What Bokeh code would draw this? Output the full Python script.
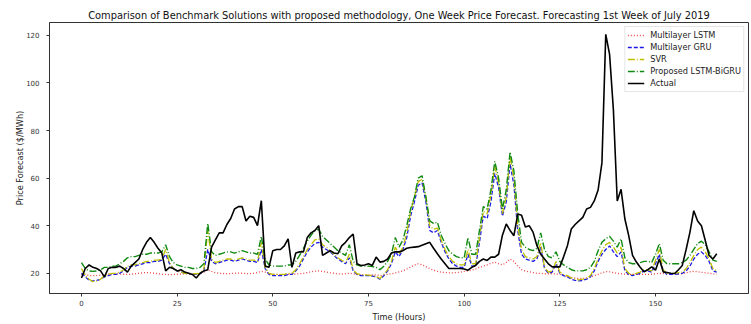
from bokeh.plotting import figure
from bokeh.models import Range1d, Legend, LegendItem
from bokeh.embed import file_html
from bokeh.resources import INLINE

title_text = "Comparison of Benchmark Solutions with proposed methodology, One Week Price Forecast. Forecasting 1st Week of July 2019"
x_label = "Time (Hours)"
y_label = "Price Forecast ($/MWh)"
x_ticks = [0, 25, 50, 75, 100, 125, 150]
y_ticks = [20, 40, 60, 80, 100, 120]

series_names = ["Multilayer LSTM", "Multilayer GRU", "SVR", "Proposed LSTM-BiGRU", "Actual"]

lstm = [19.5, 19.5, 19, 19, 19, 19.2, 19.5, 19.6, 19.8, 19.8,
        19.7, 19.6, 19.5, 19.6, 19.8, 20, 20.2, 20.3, 20.2, 20,
        19.8, 19.6, 19.5, 19.4, 19.5, 19.6, 19.7, 19.8, 19.7, 19.6,
        19.5, 19.8, 20.5, 21.5, 20.8, 20.2, 20, 19.9, 19.8, 19.9,
        20, 20.1, 20, 19.9, 19.8, 20, 20.3, 20.8, 20.5, 19.8,
        19.6, 19.5, 19.4, 19.5, 19.6, 19.6, 19.7, 19.8, 20, 20.3,
        20.6, 20.9, 21, 20.8, 20.5, 20.2, 20, 19.8, 19.7, 19.8,
        20, 19.8, 19.5, 19.3, 19.2, 19.2, 19.3, 19.3, 19, 19.2,
        19.5, 19.8, 20.2, 20.6, 21, 21.8, 22.6, 23.4, 24, 23.6,
        22.8, 22, 21.3, 20.8, 20.5, 20.3, 20.2, 20.2, 20.3, 20.5,
        20.8, 21, 21.3, 21.8, 22.5, 23, 23.5, 24.2, 24.7, 24,
        23.5, 24.5, 26, 25, 23, 21.5, 21, 20.6, 20.3, 20,
        19.9, 19.8, 19.8, 19.8, 19.7, 19.5, 19, 18.5, 18.2, 18,
        17.8, 17.8, 18, 18.5, 19, 19.5, 20.2, 20.7, 20.6, 20.3,
        20, 19.8, 19.6, 19.5, 19.5, 19.6, 19.6, 19.5, 19.5, 19.6,
        19.8, 19.9, 19.9, 19.8, 19.7, 19.6, 19.6, 19.8, 20.2, 20.6,
        20.8, 20.6, 20.4, 20.2, 20, 19.8, 19.6]

gru = [20, 18.5, 17, 16.8, 17, 17.5, 18.5, 19, 19.5, 19.5,
       20, 21, 22.5, 23, 23, 23.5, 24, 24.5, 24.5, 25,
       25, 25.5, 28, 24, 22, 21, 20.5, 20, 20, 19.5,
       19.5, 19.8, 21, 30, 25, 24, 24.5, 25, 25.5, 25.5,
       25, 25.5, 26, 25.5, 25, 25, 24.5, 30, 22, 19.5,
       19, 19, 19, 19, 19.5, 19.5, 21, 23, 26, 29,
       31, 32.5, 33, 31, 30, 29, 27.5, 26, 25, 24,
       26.5, 21, 19.5, 19, 19, 19, 18.8, 18.5, 17.5, 19,
       21, 24, 29, 27, 30, 35, 44, 50, 57, 58,
       50, 38, 37, 38, 33, 29, 26, 24, 23, 22.5,
       22.5, 28, 23, 23, 33, 44, 43, 50, 62, 56,
       44, 50, 66, 57, 38, 28, 26, 25.5, 25, 26,
       31, 22, 20, 20.5, 24, 20, 19, 18.5, 17.5, 17,
       16.8, 17, 17.5, 18.5, 21, 25, 28, 30, 31.5, 29,
       27, 29, 21, 19.5, 19, 19.5, 20, 21, 21, 20.5,
       24, 28, 21, 19.5, 19.5, 19.5, 19.8, 20, 21, 23,
       26, 28, 29, 27.5, 25, 21, 20.5]

svr = [22, 19, 17.5, 16.5, 16.8, 17.5, 19, 19.5, 20, 20,
       20.5, 21.5, 23, 23.5, 23.5, 24, 24.5, 25, 25, 25.5,
       25.5, 26, 30, 24.5, 22, 21, 20.5, 20, 20, 19.8,
       19.8, 20, 22, 38, 26, 24.5, 25, 25.5, 26, 26,
       25.5, 26, 26.5, 26, 25.5, 25.5, 25, 33, 22.5, 20,
       19.5, 19.5, 19.5, 19.5, 20, 20, 21.5, 24, 27, 30,
       32, 34, 34.5, 32, 31, 29.5, 28, 26.5, 25.5, 24.5,
       28, 21.5, 19.8, 19.5, 19.3, 19.2, 19, 18.7, 17.8, 19.5,
       21.5, 25, 31, 28, 31, 37, 46, 52, 58.5, 59.5,
       52, 40, 38.5, 39, 34, 30, 27, 25, 24, 23.5,
       23.5, 30, 24, 24, 35, 46, 45, 53, 65, 58,
       45, 52, 69, 60, 40, 30, 27, 26.5, 26, 27,
       33, 22.5, 20.5, 21, 25, 20.5, 19.5, 19, 18, 17.5,
       17.2, 17.5, 18, 19, 22, 26, 29.5, 32, 33, 31,
       28.5, 31, 22, 20, 19.5, 20, 20.5, 21.5, 21.5, 21,
       25.5, 30, 21.5, 20, 20, 20, 20.3, 20.5, 22, 24.5,
       27.5, 30, 31, 29, 26, 22, 21]

proposed = [24.5, 22, 21, 20.8, 21, 21.5, 22.5, 22.5, 23, 23,
            24, 25, 26.5, 27, 27, 27.5, 28, 28, 28.5, 28.5,
            28.5, 29, 32, 27, 24.5, 23.5, 23, 22.5, 22.5, 22,
            22, 22.5, 24, 41, 29, 27.5, 28, 28.5, 29, 29,
            28.5, 29, 29.5, 29, 28.5, 28.5, 28, 35.5, 26, 23.5,
            23, 23, 23, 23, 23.5, 23.5, 25, 27.5, 30.5, 33.5,
            36, 38, 38.5, 35.5, 34, 32.5, 31, 29.5, 28.5, 27.5,
            32, 25, 23.5, 23, 23, 23, 22.8, 22.5, 21.5, 23,
            25, 28, 35, 31, 34, 40, 47, 52, 60, 61,
            52, 42, 41, 41.5, 36, 32.5, 29.5, 28, 27, 26.5,
            26.5, 35, 28, 28, 38, 48, 47, 55, 67, 60,
            47, 55, 71, 63, 45, 33, 31, 30, 29.5, 30.5,
            37, 30, 27, 26.5, 29, 25, 23.5, 22.5, 21.5, 21,
            21, 21, 21.5, 22.5, 25, 29.5, 33, 34.5, 35.5, 33.5,
            31, 34.5, 26.5, 24.5, 24, 24, 24.5, 25, 25, 24.5,
            28, 32.5, 25.5, 24, 24, 24, 24, 24.5, 25.5, 27.5,
            30, 32.5, 33.5, 32, 29, 25.5, 25]

actual = [18, 22, 23.5, 22.5, 22, 21, 18.5, 22, 22.5, 22.5,
          23, 22, 20.5, 23, 24.5, 26, 30, 33, 35, 33,
          30.5, 28.5, 21, 22.5, 22, 21, 21.5, 20.5, 20, 19.5,
          18, 20, 21, 21.5, 31, 34, 37, 37, 40.5, 43,
          47, 48, 48, 42, 44, 43.5, 40, 50.5, 23, 22.5,
          29.5, 30, 30, 31.5, 34.5, 22.5, 28.5, 29, 29, 35,
          37, 38, 40, 27.5, 28.5, 29.5, 28.5, 28.2, 31.5, 33,
          35, 36.5, 24, 23.3, 23.5, 24, 23.3, 26.8, 24.7, 25,
          26, 28.5, 29, 29, 29.5, 30.5, 30.8, 31, 31.2, 31.8,
          32.4, 33, 30.5, 28.2, 26, 24, 22, 22, 22, 22,
          21.8, 21.3, 22.5, 23.3, 25, 26, 25.4, 26.8, 26.8, 28,
          36, 40.7, 38, 35.8, 44.9, 44.4, 39.4, 40, 37.3, 31.7,
          28, 26, 24, 22.7, 22.7, 22.7, 27, 31.7, 38.6, 40.5,
          42, 43.5, 47, 47.7, 50.4, 55, 66.4, 120.4, 112, 88.6,
          50.4, 55.3, 42.8, 35.8, 27.5, 24.7, 22.5, 20.6, 21.5, 22.7,
          21.3, 26, 20.6, 20.3, 20, 19.9, 21.5, 23.3, 30, 37.3,
          46.3, 42, 40, 33.8, 27.5, 26, 28.2]

all_series = [lstm, gru, svr, proposed, actual]
colors = ["#f04646", "#1a1ae6", "#bfbf00", "#108a10", "#000000"]
dashes = ["1 2", "4 2", "7 2 1 2", "7 2 1 2", "solid"]
widths = [1.3, 1.3, 1.3, 1.4, 1.6]

font = "DejaVu Sans"

p = figure(width=751, height=324, output_backend="svg", toolbar_location=None,
           x_range=Range1d(-8.35, 174.3), y_range=Range1d(11.5, 125.4),
           min_border_left=49, min_border_right=3, min_border_top=22, min_border_bottom=29)
p.background_fill_color = "white"
p.border_fill_color = "white"
p.outline_line_color = "#333333"
p.outline_line_width = 1
p.xgrid.visible = False
p.ygrid.visible = False

p.title.text = title_text
p.title.text_font = font
p.title.text_font_size = "9.85px"
p.title.text_font_style = "normal"
p.title.text_color = "#111111"
p.title.align = "center"
p.title.standoff = 4
p.title.offset = 0

for ax in (p.xaxis[0], p.yaxis[0]):
    ax.axis_line_color = "#333333"
    ax.major_tick_line_color = "#333333"
    ax.minor_tick_line_color = None
    ax.major_tick_in = 0
    ax.major_tick_out = 3
    ax.major_label_text_font = font
    ax.major_label_text_font_size = "7px"
    ax.major_label_text_color = "#333333"
    ax.axis_label_text_font = font
    ax.axis_label_text_font_size = "8.2px"
    ax.axis_label_text_font_style = "normal"
    ax.axis_label_text_color = "#222222"

p.xaxis.ticker = x_ticks
p.yaxis.ticker = y_ticks
p.xaxis.axis_label = x_label
p.yaxis.axis_label = y_label
p.xaxis.major_label_standoff = 3
p.xaxis.axis_label_standoff = 3
p.yaxis.major_label_standoff = 7
p.yaxis.axis_label_standoff = -2

items = []
for name, ys, c, d, w in zip(series_names, all_series, colors, dashes, widths):
    xs = list(range(len(ys)))
    r = p.line(xs, ys, line_color=c, line_dash=d, line_width=w)
    items.append(LegendItem(label=name, renderers=[r]))

legend = Legend(items=items, location="top_right")
legend.margin = 4
legend.padding = 2
legend.spacing = 0
legend.label_height = 12
legend.glyph_height = 12
legend.glyph_width = 17
legend.label_standoff = 6
legend.label_text_font = font
legend.label_text_font_size = "8.2px"
legend.label_text_color = "#222222"
legend.border_line_color = "#cccccc"
legend.border_line_width = 1
legend.background_fill_color = "white"
legend.background_fill_alpha = 0.85
p.add_layout(legend, "center")

open("out.html", "w").write(file_html(p, INLINE))
